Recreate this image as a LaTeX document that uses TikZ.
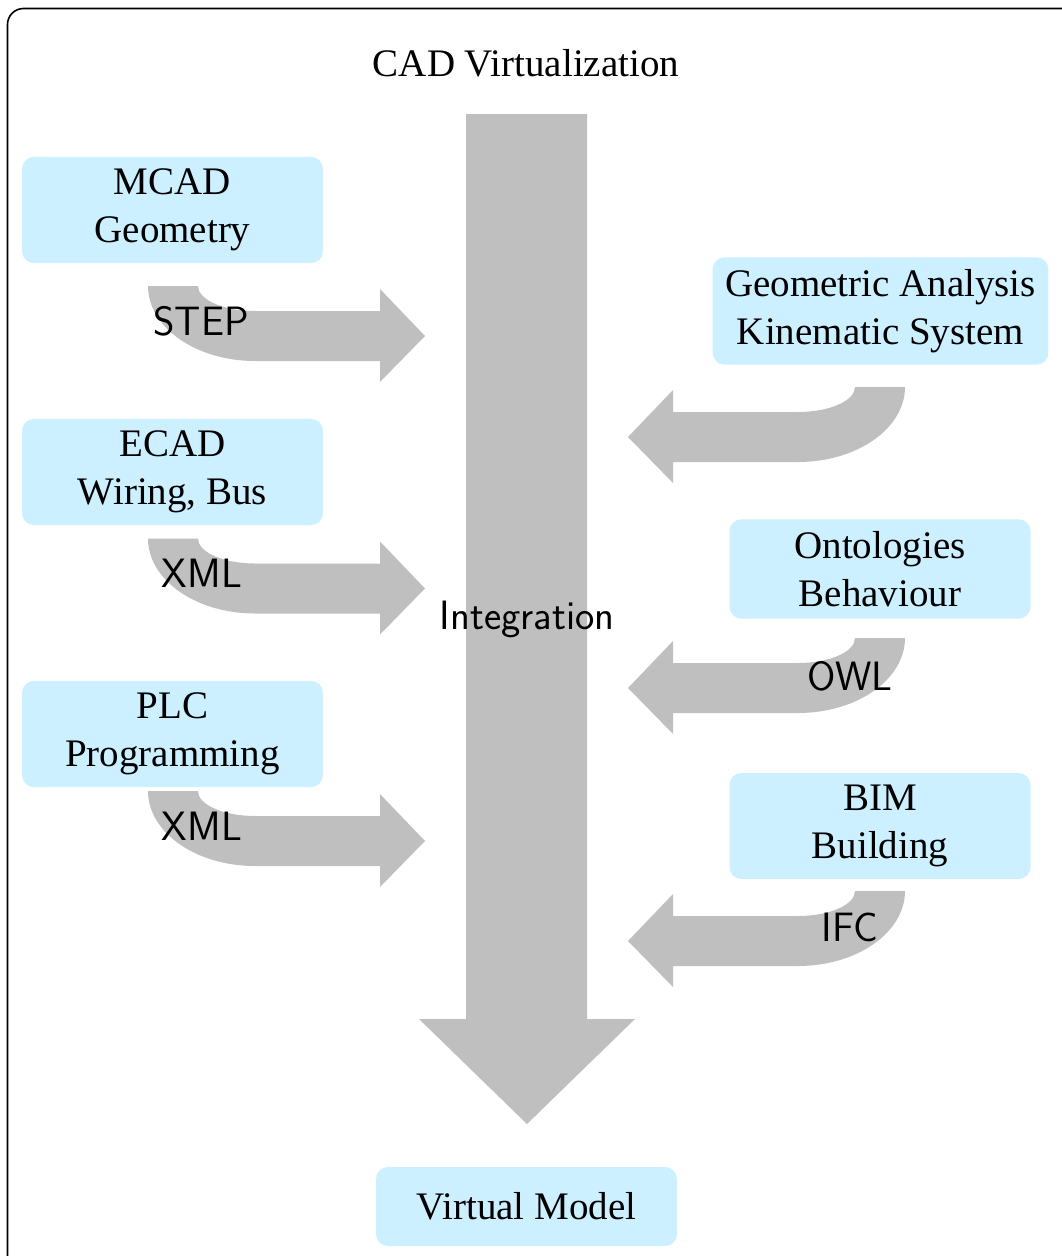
\documentclass[tikz,border=0pt]{standalone}
\usepackage{fontspec}
\setmainfont{Liberation Serif}
\definecolor{boxcyan}{RGB}{204,240,255}
\definecolor{flowgray}{RGB}{191,191,191}
\newcommand{\bigserif}{\fontsize{39}{48}\selectfont}
\newcommand{\bigsans}{\fontsize{41}{48}\selectfont\sffamily}
\begin{document}
\begin{tikzpicture}[x=1pt,y=1pt,
  infobox/.style={fill=boxcyan, rounded corners=12pt, minimum width=301pt,
    inner xsep=12.5pt, inner ysep=12pt, align=center, font=\bigserif},
  flowlabel/.style={anchor=base, inner sep=0pt, font=\bigsans},
  bendarrow/.pic={
    \fill[flowgray] (0,0) -- (50,0)
      arc[start angle=180, end angle=270, x radius=57pt, y radius=25pt]
      -- (232,-25) -- (232,-3) -- (277,-50) -- (232,-96) -- (232,-75)
      -- (107,-75)
      arc[start angle=270, end angle=180, x radius=107pt, y radius=75pt]
      -- cycle;
  }]
\useasboundingbox (0,0) rectangle (1062,-1256);

% outer frame, running past the right and bottom edges
\begin{scope}
  \clip (0,0) rectangle (1062,-1256);
  \draw[line width=1.6pt, rounded corners=16pt] (7.5,-8.5) rectangle (1100,-1300);
\end{scope}

% main integration flow
\fill[flowgray] (466,-114) -- (587,-114) -- (587,-1019) -- (635,-1019)
  -- (527,-1124) -- (419,-1019) -- (466,-1019) -- cycle;

% incoming bent arrows, left side
\pic at (148,-286) {bendarrow};
\pic at (148,-538.5) {bendarrow};
\pic at (148,-791) {bendarrow};

% incoming bent arrows, right side
\pic[xscale=-1] at (905,-387) {bendarrow};
\pic[xscale=-1] at (905,-638) {bendarrow};
\pic[xscale=-1] at (905,-891) {bendarrow};

% title
\node[anchor=base, font=\bigserif, inner sep=0pt] (title) at (526,-76) {CAD Virtualization};

% source boxes
\node[infobox] (mcad) at (172.5,-210) {MCAD\\Geometry};
\node[infobox] (ecad) at (172.5,-472) {ECAD\\Wiring, Bus};
\node[infobox] (plc)  at (172.5,-734) {PLC\\Programming};
\node[infobox] (geo)  at (880.5,-311) {Geometric Analysis\\Kinematic System};
\node[infobox] (onto) at (880,-569) {Ontologies\\Behaviour};
\node[infobox] (bim)  at (880,-826) {BIM\\Building};
\node[infobox, minimum height=79pt] (vm) at (526.5,-1206.5) {Virtual Model};

% exchange formats
\node[flowlabel] (step) at (201,-335) {STEP};
\node[flowlabel] (xmla) at (202,-587) {XML};
\node[flowlabel] (xmlb) at (202,-840) {XML};
\node[flowlabel] (owl)  at (850,-690) {OWL};
\node[flowlabel] (ifc)  at (850,-941) {IFC};
\node[flowlabel] (integ) at (527,-629) {Integration};
\end{tikzpicture}
\end{document}
